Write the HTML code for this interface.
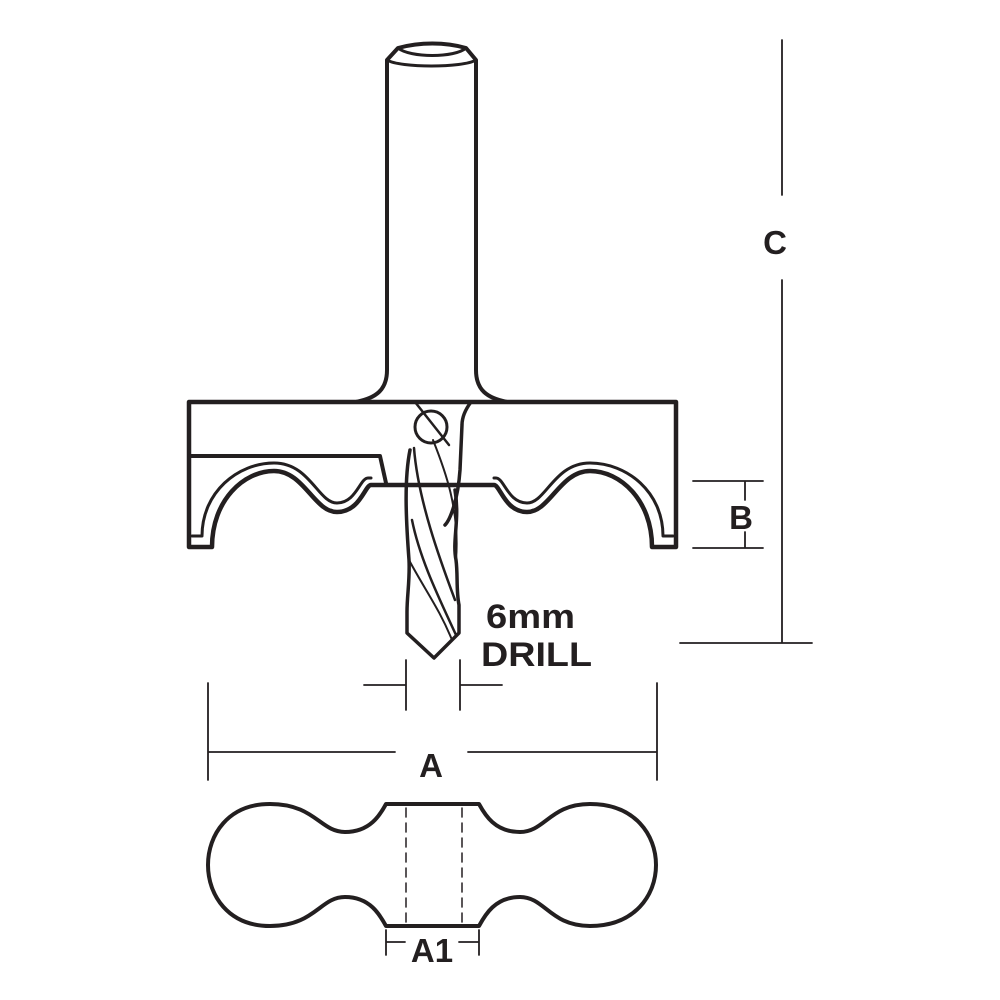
<!DOCTYPE html>
<html><head><style>
html,body{margin:0;padding:0;background:#fff}
svg{display:block}
text{font-family:"Liberation Sans",Arial,sans-serif;font-weight:bold;fill:#231f20}
</style></head><body>
<svg width="1000" height="1000" viewBox="0 0 1000 1000" xmlns="http://www.w3.org/2000/svg">
<g fill="none" stroke="#231f20" stroke-linejoin="round" stroke-linecap="round">
<path d="M387,88 L387,370 C387,390 376,398 356,402" stroke-width="4"/>
<path d="M476,88 L476,370 C476,390 487,398 507,402" stroke-width="4"/>
<path d="M387,90 L387,60 L398,48 C420,42 445,42 466,48 L476,60 L476,90" stroke-width="4"/>
<path d="M398,48 C410,58 455,58 466,48" stroke-width="3"/>
<path d="M387,60 C400,68 463,68 476,60" stroke-width="3"/>
<path d="M189,402 L676,402 L676,547 L652,547 C652,500 620,471 590,471 C560,471 550,512 527,512 C505,512 500,485 494,485 L371,485 C365,485 360,512 337,512 C314,512 304,471 274,471 C244,471 212,500 212,547 L189,547 Z" stroke-width="4.5"/>
<path d="M192,536 L202,536 C202,492 238,463 274,463 C310,463 318,503 337,503 C356,503 360,478 368,478 L371,478" stroke-width="3"/>
<path d="M673,536 L663,536 C663,492 627,463 590,463 C554,463 546,503 527,503 C508,503 504,478 496,478 L494,478" stroke-width="3"/>
<path d="M189,456 L380,456 L386,483" stroke-width="4"/>
<path d="M371,485 L494,485" stroke-width="3"/>
<circle cx="431" cy="427" r="16" stroke-width="3"/>
<path d="M415,402 L449,445" stroke-width="2.5"/>
<path d="M471,402 C465,410 462,418 462,425 L460,470 C458,500 450,520 445,525" stroke-width="3.5"/>
<path d="M410,450 C404,480 406,520 409,560 C410,580 407,595 407,612 L407,633 L434,658 L459,633 L459,605 C456,590 458,575 456,560 C452,540 460,520 455,490" stroke-width="3.5"/>
<path d="M414,448 C418,500 440,560 455,600" stroke-width="2.5"/>
<path d="M412,520 C420,560 440,600 456,635" stroke-width="2.5"/>
<path d="M409,560 C425,590 440,610 452,640" stroke-width="2"/>
<path d="M433,440 C445,470 460,510 456,560" stroke-width="2"/>
<path d="M782,40 L782,195 M782,280 L782,643 M680,643 L812,643" stroke-width="1.8"/>
<path d="M693,481 L763,481 M693,548 L763,548 M745,481 L745,500 M745,532 L745,548" stroke-width="1.8"/>
<path d="M406,660 L406,710 M460,660 L460,710 M364,685 L406,685 M460,685 L502,685" stroke-width="1.8"/>
<path d="M208,683 L208,780 M657,683 L657,780 M208,752 L395,752 M468,752 L657,752" stroke-width="1.8"/>
<path d="M386,804 L479,804 C485,815 495,832 520,832 C545,832 550,804 590,804 C635,804 656,835 656,865 C656,895 635,926 590,926 C550,926 545,897 520,897 C495,897 485,915 479,926 L386,926 C380,915 370,897 345,897 C320,897 315,926 270,926 C228,926 208,895 208,865 C208,835 228,804 270,804 C315,804 320,832 345,832 C370,832 380,815 386,804 Z" stroke-width="4"/>
<path d="M406,808 L406,922 M462,808 L462,922" stroke-width="1.5" stroke-dasharray="9,6"/>
<path d="M386,930 L386,955 M479,930 L479,955 M386,942 L405,942 M459,942 L479,942" stroke-width="1.8"/>
</g>
<text x="775" y="254" font-size="33" text-anchor="middle">C</text>
<text x="741" y="529" font-size="33" text-anchor="middle">B</text>
<text x="431" y="777" font-size="33" text-anchor="middle">A</text>
<text x="432" y="962" font-size="33" text-anchor="middle">A1</text>
<text x="486" y="628" font-size="34" textLength="89" lengthAdjust="spacingAndGlyphs">6mm</text>
<text x="481" y="666" font-size="34" textLength="111" lengthAdjust="spacingAndGlyphs">DRILL</text>
</svg>
</body></html>
